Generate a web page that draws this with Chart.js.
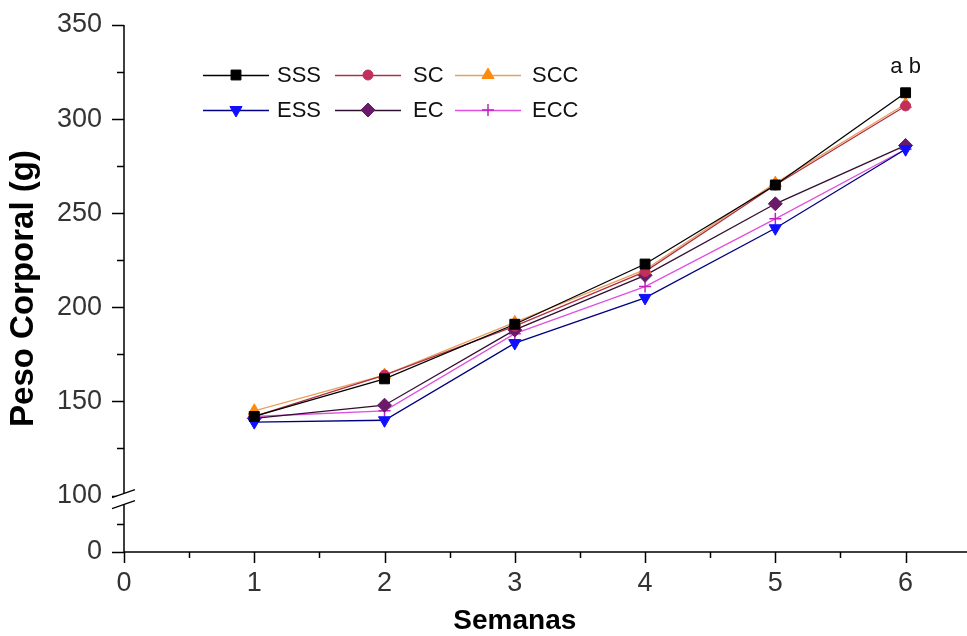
<!DOCTYPE html>
<html>
<head>
<meta charset="utf-8">
<script src="https://cdn.jsdelivr.net/npm/chart.js@4.4.1/dist/chart.umd.min.js"></script>
<style>
   html, body { margin: 0; padding: 0; background: #ffffff; }
   #wrap { width: 967px; height: 636px; }
</style>
</head>
<body>
<div id="wrap"><canvas id="chart" width="967" height="636"></canvas></div>
<script>
const weeks = [1, 2, 3, 4, 5, 6];
const seriesNames = ["SSS", "SC", "SCC", "ESS", "EC", "ECC"];
const sss = [142, 162, 191, 223, 265, 314];
const sc = [142, 164, 190, 219, 265, 307];
const scc = [145, 164, 192, 220, 266, 308];
const ess = [139, 140, 181, 205, 242, 284];
const ec = [141, 148, 188, 217, 255, 286];
const ecc = [142, 145, 186, 211, 247, 284];

const xTicks = [0, 1, 2, 3, 4, 5, 6];
const yTicks = [100, 150, 200, 250, 300, 350];
const yZeroLabel = "0";
// the axis is broken: the "0" tick sits at this value of the linear scale
const yBreakBase = 70;

const FONT = "'Liberation Sans', Arial, sans-serif";

const styles = [
   { line: "#000000", point: "#000000", pointStyle: "rect", radius: 7, rotation: 0 },
   { line: "#b03040", point: "#c0305a", pointStyle: "circle", radius: 5, rotation: 0 },
   { line: "#e8a060", point: "#ff8a10", pointStyle: "triangle", radius: 7, rotation: 0 },
   { line: "#000080", point: "#1010ff", pointStyle: "triangle", radius: 7, rotation: 180 },
   { line: "#301030", point: "#6a1a6a", pointStyle: "rectRot", radius: 7, rotation: 0 },
   { line: "#e050e0", point: "#c020c0", pointStyle: "cross", radius: 6, rotation: 0 },
];

const seriesValues = [sss, sc, scc, ess, ec, ecc];

const datasets = seriesValues.map((vals, i) => ({
   label: seriesNames[i],
   data: weeks.map((w, j) => ({ x: w, y: vals[j] })),
   borderColor: styles[i].line,
   borderWidth: 1.3,
   backgroundColor: styles[i].point,
   pointBackgroundColor: styles[i].point,
   pointBorderColor: styles[i].point,
   pointBorderWidth: styles[i].pointStyle === "cross" ? 1.5 : 1,
   pointStyle: styles[i].pointStyle,
   pointRadius: styles[i].radius,
   pointRotation: styles[i].rotation,
   tension: 0,
   fill: false,
}));

const decorPlugin = {
   id: "decor",
   afterDraw(chart) {
      const { ctx, chartArea: a, scales } = chart;
      const x = scales.x;
      const y = scales.y;
      ctx.save();
      ctx.strokeStyle = "#000000";
      ctx.lineWidth = 1.5;

      // axis lines
      ctx.beginPath();
      ctx.moveTo(a.left, y.getPixelForValue(350));
      ctx.lineTo(a.left, a.bottom);
      ctx.lineTo(chart.width, a.bottom);
      ctx.stroke();

      // y ticks
      const yMajor = [yBreakBase].concat(yTicks);
      const yMinor = [(yBreakBase + 100) / 2];
      for (let v = 125; v < 350; v += 50) yMinor.push(v);
      ctx.beginPath();
      for (const v of yMajor) {
         const p = Math.round(y.getPixelForValue(v)) + 0.5;
         ctx.moveTo(a.left - 12, p);
         ctx.lineTo(a.left, p);
      }
      for (const v of yMinor) {
         const p = Math.round(y.getPixelForValue(v)) + 0.5;
         ctx.moveTo(a.left - 7, p);
         ctx.lineTo(a.left, p);
      }
      // x ticks
      for (const v of xTicks) {
         const p = Math.round(x.getPixelForValue(v)) + 0.5;
         ctx.moveTo(p, a.bottom);
         ctx.lineTo(p, a.bottom + 11);
         const m = Math.round(x.getPixelForValue(v + 0.5)) + 0.5;
         ctx.moveTo(m, a.bottom);
         ctx.lineTo(m, a.bottom + 6);
      }
      ctx.stroke();

      // axis break marks
      const b = y.getPixelForValue(100);
      ctx.fillStyle = "#ffffff";
      ctx.beginPath();
      ctx.moveTo(a.left - 12, b + 2);
      ctx.lineTo(a.left + 11, b - 6);
      ctx.lineTo(a.left + 11, b + 5);
      ctx.lineTo(a.left - 12, b + 13);
      ctx.closePath();
      ctx.fill();
      ctx.lineWidth = 1.3;
      ctx.beginPath();
      ctx.moveTo(a.left - 12, b + 2);
      ctx.lineTo(a.left + 11, b - 6);
      ctx.moveTo(a.left - 12, b + 13);
      ctx.lineTo(a.left + 11, b + 5);
      ctx.stroke();

      // legend
      const colSym = [203, 335, 455];
      const colText = [277, 413, 532];
      const rows = [75, 110];
      ctx.font = "22px " + FONT;
      ctx.textBaseline = "middle";
      ctx.textAlign = "left";
      seriesNames.forEach((name, i) => {
         const c = i % 3;
         const r = Math.floor(i / 3);
         const sx = colSym[c];
         const sy = rows[r];
         const s = styles[i];
         ctx.strokeStyle = s.line;
         ctx.lineWidth = 1.5;
         ctx.beginPath();
         ctx.moveTo(sx, sy + 0.5);
         ctx.lineTo(sx + 66, sy + 0.5);
         ctx.stroke();
         ctx.fillStyle = s.point;
         ctx.strokeStyle = s.point;
         ctx.lineWidth = s.pointStyle === "cross" ? 1.5 : 1;
         Chart.helpers.drawPoint(ctx, {
            pointStyle: s.pointStyle,
            radius: s.radius,
            rotation: s.rotation,
            borderWidth: ctx.lineWidth,
         }, sx + 33, sy);
         ctx.fillStyle = "#111111";
         ctx.fillText(name, colText[c], sy + 1);
      });

      // significance letters over week 6
      ctx.font = "22px " + FONT;
      ctx.textAlign = "center";
      ctx.fillStyle = "#111111";
      ctx.fillText("a b", x.getPixelForValue(6), y.getPixelForValue(sss[5]) - 26);

      // x title
      ctx.font = "bold 28px " + FONT;
      ctx.fillStyle = "#000000";
      ctx.textBaseline = "middle";
      ctx.fillText("Semanas", x.getPixelForValue(3), 621);
      ctx.restore();
   },
};

new Chart(document.getElementById("chart").getContext("2d"), {
   type: "line",
   data: { datasets: datasets },
   options: {
      responsive: false,
      animation: false,
      layout: { padding: { top: 25, right: 0, left: 0, bottom: 0 } },
      plugins: {
         legend: { display: false },
         tooltip: { enabled: false },
      },
      scales: {
         x: {
            type: "linear",
            min: 0,
            max: 6.41,
            afterBuildTicks: (scale) => {
               scale.ticks = xTicks.map((v) => ({ value: v }));
            },
            afterFit: (scale) => {
               scale.height = 84;
               scale.paddingLeft = 0;
               scale.paddingRight = 0;
            },
            ticks: {
               autoSkip: false,
               maxRotation: 0,
               padding: 15,
               color: "#333333",
               font: { family: FONT, size: 27 },
               callback: (v) => String(v),
            },
            grid: { display: false, drawTicks: false },
            border: { display: false },
         },
         y: {
            type: "linear",
            min: yBreakBase,
            max: 350,
            afterBuildTicks: (scale) => {
               scale.ticks = [yBreakBase].concat(yTicks).map((v) => ({ value: v }));
            },
            afterFit: (scale) => {
               scale.width = 124;
               scale.paddingTop = 0;
               scale.paddingBottom = 0;
            },
            ticks: {
               autoSkip: false,
               padding: 22,
               color: "#333333",
               font: { family: FONT, size: 27 },
               callback: (v) => (v === yBreakBase ? yZeroLabel : String(v)),
            },
            grid: { display: false, drawTicks: false },
            border: { display: false },
            title: {
               display: true,
               text: "Peso Corporal (g)",
               color: "#000000",
               font: { family: FONT, size: 33, weight: "bold" },
               padding: { top: 4, bottom: 0 },
            },
         },
      },
   },
   plugins: [decorPlugin],
});
</script>
</body>
</html>
